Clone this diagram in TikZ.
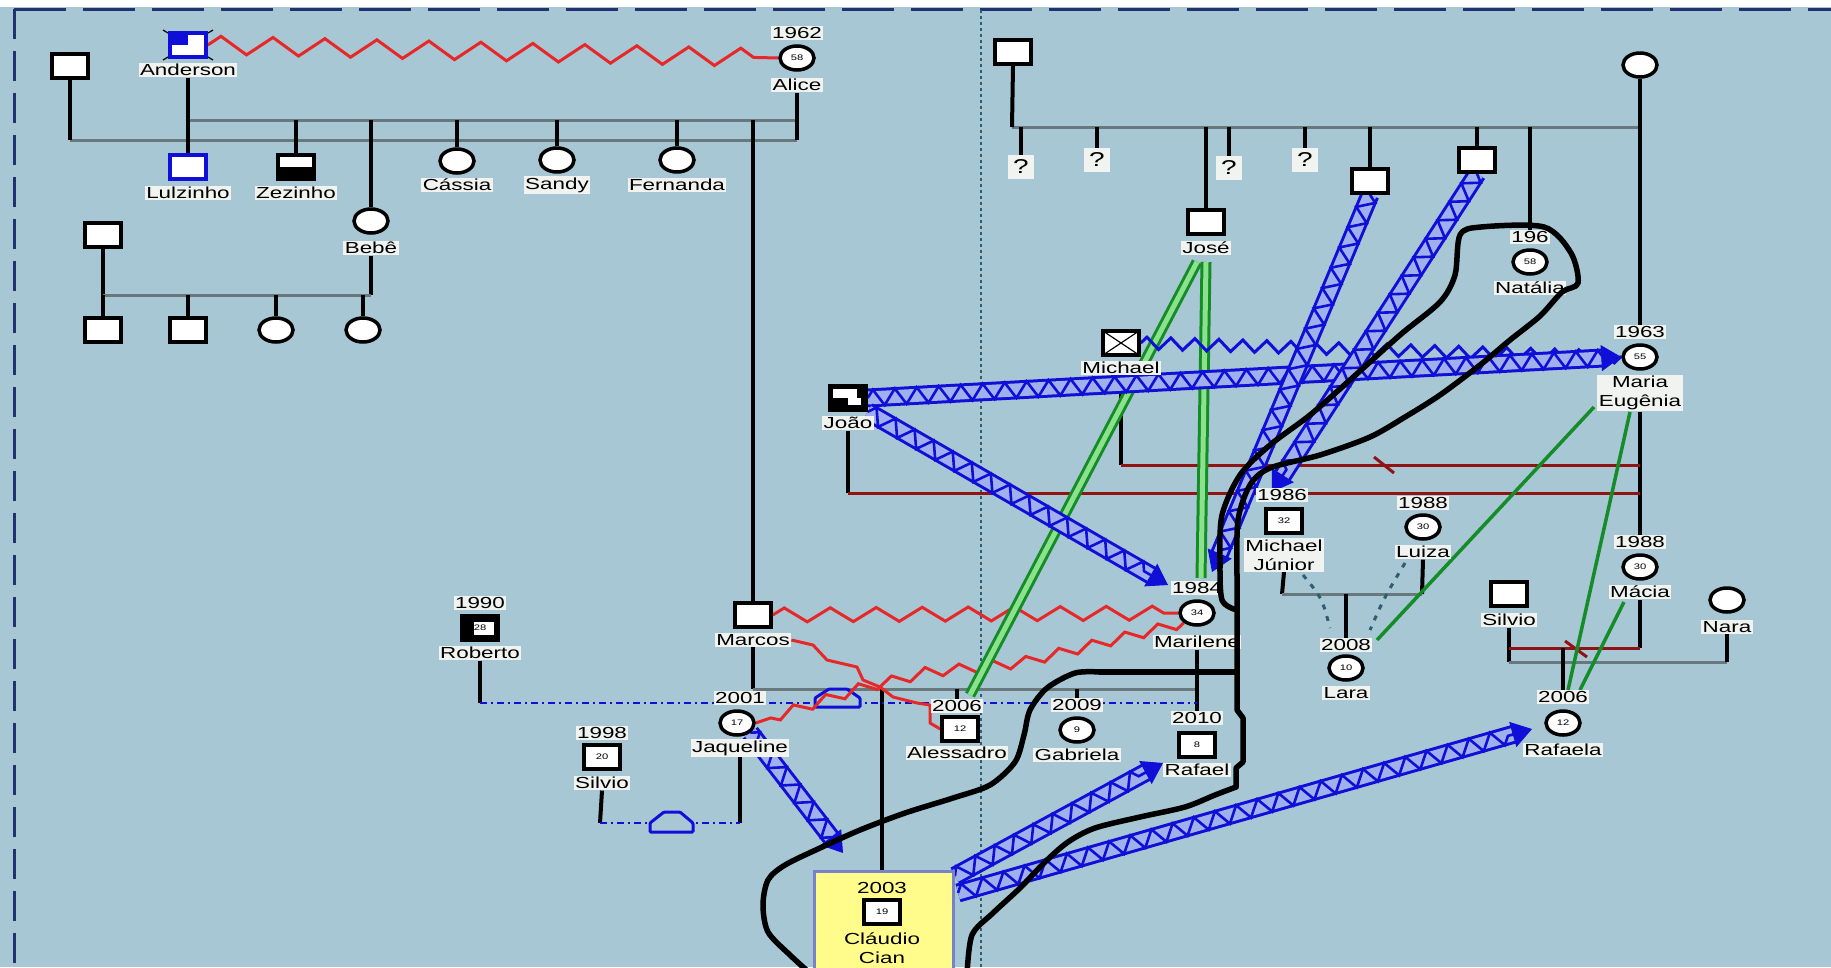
\documentclass[tikz,border=0pt]{standalone}
\usepackage{fontspec}
\setmainfont{Liberation Sans}
\newfontfamily\labfam[FakeStretch=1.4]{Liberation Sans}
\usetikzlibrary{shapes.geometric,decorations.pathmorphing,arrows.meta,calc}
\definecolor{bg}{RGB}{168,199,213}
\definecolor{labbg}{RGB}{240,243,240}
\definecolor{frame}{RGB}{35,50,110}
\definecolor{gline}{RGB}{105,120,125}
\definecolor{dred}{RGB}{145,20,20}
\definecolor{rline}{RGB}{230,40,40}
\definecolor{vblue}{RGB}{15,15,215}
\definecolor{bandfill}{RGB}{160,176,236}
\definecolor{gdark}{RGB}{20,140,40}
\definecolor{glight}{RGB}{140,225,140}
\definecolor{boxy}{RGB}{255,252,140}
\definecolor{boxb}{RGB}{120,130,200}
\definecolor{teald}{RGB}{45,95,115}
\newcommand\labf{\labfam\fontsize{16}{19}\selectfont}
\newcommand\agef{\labfam\fontsize{8}{9}\selectfont}
\newcommand\qmf{\labfam\fontsize{20}{20}\selectfont}
\pgfdeclarelayer{back}
\pgfdeclarelayer{lines}
\pgfdeclarelayer{top}
\pgfsetlayers{back,lines,main,top}
\tikzset{
 sq/.style={rectangle, draw=black, line width=3.5pt, fill=white, minimum width=36pt, minimum height=24pt, inner sep=0pt, font=\agef},
 ci/.style={ellipse, draw=black, line width=3.5pt, fill=white, minimum width=34pt, minimum height=24pt, inner sep=0pt, font=\agef},
 lab/.style={fill=labbg, inner sep=1.5pt, font=\labf, align=center},
 plain/.style={inner sep=1pt, font=\labf, align=center},
 qm/.style={fill=labbg, inner sep=0pt, minimum width=26pt, minimum height=24pt, font=\qmf},
 kin/.style={draw=black, line width=4pt},
 sib/.style={draw=gline, line width=3pt},
 marr/.style={draw=dred, line width=3pt},
 bandA/.style={draw=vblue, line width=3pt, double=bandfill, double distance=13pt},
 bandZ/.style={draw=vblue, line width=2.6pt, decorate, decoration={zigzag, amplitude=8pt, segment length=22pt}},
 btip/.style={draw=vblue, fill=vblue, line width=1pt, -{Triangle[length=20pt,width=26pt]}},
 close/.style={draw=gdark, line width=3pt, double=glight, double distance=5pt},
 gsingle/.style={draw=gdark, line width=3.5pt},
 dotblue/.style={draw=vblue, line width=2.5pt, dash pattern=on 7pt off 4pt on 2pt off 4pt},
 house/.style={draw=vblue, line width=3pt, rounded corners=1pt},
 outline/.style={draw=black, line width=5.5pt, line join=round, line cap=round},
 redz/.style={draw=rline, line width=3pt, decorate},
}
\newcommand\vband[2]{%
 \path[bandA] (#1) -- ($(#2)!17pt!(#1)$);
 \path[bandZ] (#1) -- ($(#2)!17pt!(#1)$);
 \draw[btip] ($(#2)!20pt!(#1)$) -- (#2);}
\begin{document}
\begin{tikzpicture}[x=1pt,y=-1pt]
\useasboundingbox (0,0) rectangle (1831,967);
\clip (0,0) rectangle (1831,967);
\begin{pgfonlayer}{back}
\fill[bg] (0,0) rectangle (1831,967);
\fill[white] (0,0) rectangle (1831,7);
\draw[frame, line width=3pt, dash pattern=on 52pt off 17pt] (14,9) -- (1831,9);
\draw[frame, line width=3pt, dash pattern=on 30pt off 12pt] (14,9) -- (14,967);
\draw[teald, line width=2.5pt, dash pattern=on 2.5pt off 3.5pt] (981,10) -- (981,967);
\end{pgfonlayer}

% ---------- top-left family ----------
\draw[black, line width=1.2pt] (163,30) -- (213,60) (213,30) -- (163,60);
\node[sq, draw=vblue, path picture={\fill[vblue] (path picture bounding box.north west) rectangle (path picture bounding box.center);}] (anderson) at (188,45) {};
\node[lab] (andersonL) at (188,70) {Anderson};
\node[sq] (p1) at (70,66) {};
\node[ci] (alice) at (797,58) {58};
\node[lab] (aliceY) at (797,33) {1962};
\node[lab] (aliceL) at (797,85) {Alice};
\node[sq, draw=vblue] (lulz) at (188,167) {};
\node[lab] (lulzL) at (188,193) {Lulzinho};
\node[sq, path picture={\fill[black] (path picture bounding box.west) rectangle (path picture bounding box.south east);}] (zez) at (296,167) {};
\node[lab] (zezL) at (296,193) {Zezinho};
\node[ci] (cassia) at (457,161) {};
\node[lab] (cassiaL) at (457,185) {Cássia};
\node[ci] (sandy) at (557,160) {};
\node[lab] (sandyL) at (557,185) {Sandy};
\node[ci] (fern) at (677,160) {};
\node[lab] (fernL) at (677,185) {Fernanda};
\node[ci] (bebe) at (371,221) {};
\node[lab] (bebeL) at (371,248) {Bebê};
\node[sq] (p2) at (103,235) {};
\node[sq] (c1) at (103,330) {};
\node[sq] (c2) at (188,330) {};
\node[ci] (c3) at (276,330) {};
\node[ci] (c4) at (363,330) {};
\node[sq] (marcos) at (753,615) {};
\node[lab] (marcosL) at (753,640) {Marcos};

\coordinate (u1) at (188,120); \coordinate (u2) at (797,120);
\coordinate (l1) at (70,140);  \coordinate (l2) at (797,140);
\coordinate (bb) at (371,295); \coordinate (pb) at (103,295);
\begin{pgfonlayer}{lines}
\draw[sib] (l1) -- (l2);
\draw[sib] (u1) -- (u2);
\draw[kin] (p1.south) -- (l1);
\draw[kin] (aliceL.south) -- (l2);
\draw[kin] (andersonL.south) -- (lulz.north);
\draw[kin] (zez.north) -- (zez.north |- u1);
\draw[kin] (bebe.north) -- (bebe.north |- u1);
\draw[kin] (cassia.north) -- (cassia.north |- u1);
\draw[kin] (sandy.north) -- (sandy.north |- u1);
\draw[kin] (fern.north) -- (fern.north |- u1);
\draw[kin] (marcos.north) -- (marcos.north |- u1);
\draw[kin] (bebeL.south) -- (bb);
\draw[kin] (p2.south) -- (pb);
\draw[sib] (pb) -- (bb);
\draw[kin] (c2.north) -- (c2.north |- pb);
\draw[kin] (c3.north) -- (c3.north |- pb);
\draw[kin] (c4.north) -- (c4.north |- pb);
\draw[kin] (c1.north) -- (pb);
\draw[redz, decoration={zigzag, amplitude=9pt, segment length=52pt}] (anderson.east) -- (alice.west);
\end{pgfonlayer}

% ---------- top-right family ----------
\node[sq] (p3) at (1013,52) {};
\node[ci] (p4) at (1640,65) {};
\node[qm] (q1) at (1021,167) {?};
\node[qm] (q2) at (1097,160) {?};
\node[qm] (q3) at (1229,168) {?};
\node[qm] (q4) at (1305,160) {?};
\node[sq] (jose) at (1206,222) {};
\node[lab] (joseL) at (1206,248) {José};
\node[sq] (s6) at (1370,181) {};
\node[sq] (s7) at (1477,160) {};
\node[lab] (natY) at (1530,237) {196};
\node[ci] (nat) at (1530,262) {58};
\node[lab] (natL) at (1530,288) {Natália};
\node[lab] (mariaY) at (1640,332) {1963};
\node[ci] (maria) at (1640,357) {55};
\node[lab] (mariaL) at (1640,393) {Maria\\Eugênia};
\node[sq, path picture={\draw[black, line width=1.2pt] (path picture bounding box.north west) -- (path picture bounding box.south east) (path picture bounding box.north east) -- (path picture bounding box.south west);}] (michael) at (1121,343) {};
\node[lab] (michaelL) at (1121,368) {Michael};
\node[sq, path picture={\fill[black] (path picture bounding box.north west) rectangle (path picture bounding box.south east);
 \fill[white] ($(path picture bounding box.north west)+(3,3)$) rectangle ($(path picture bounding box.north west)+(27,12)$);
 \fill[white] ($(path picture bounding box.north west)+(18,12)$) rectangle ($(path picture bounding box.north west)+(31,19)$);}] (joao) at (848,398) {};
\node[lab] (joaoL) at (848,423) {João};
\node[lab] (maciaY) at (1640,542) {1988};
\node[ci] (macia) at (1640,567) {30};
\node[lab] (maciaL) at (1640,592) {Mácia};
\node[sq] (silvio2) at (1509,594) {};
\node[lab] (silvio2L) at (1509,620) {Silvio};
\node[ci] (nara) at (1727,600) {};
\node[lab] (naraL) at (1727,627) {Nara};
\node[lab] (rafaelaY) at (1563,697) {2006};
\node[ci] (rafaela) at (1563,723) {12};
\node[lab] (rafaelaL) at (1563,750) {Rafaela};
\node[lab] (mjrY) at (1282,495) {1986};
\node[sq] (mjr) at (1284,521) {32};
\node[lab] (mjrL) at (1284,555) {Michael\\Júnior};
\node[lab] (luizaY) at (1423,503) {1988};
\node[ci] (luiza) at (1423,527) {30};
\node[lab] (luizaL) at (1423,552) {Luiza};
\node[lab] (laraY) at (1346,645) {2008};
\node[ci] (lara) at (1346,668) {10};
\node[lab] (laraL) at (1346,693) {Lara};

\coordinate (r1) at (1012,127); \coordinate (r2) at (1640,127);
\coordinate (mi) at (1121,465); \coordinate (me1) at (1640,465);
\coordinate (jo) at (848,493); \coordinate (me2) at (1640,493);
\coordinate (sv) at (1509,648); \coordinate (mc) at (1640,648);
\coordinate (sg) at (1509,662); \coordinate (ng) at (1727,662);
\coordinate (mj) at (1282,594); \coordinate (lz) at (1422,594);
\begin{pgfonlayer}{lines}
\draw[sib] (r1) -- (r2);
\draw[kin] (p3.south) -- (r1);
\draw[kin] (p4.south) -- (mariaY.north);
\draw[kin] (q1.north) -- (q1.north |- r1);
\draw[kin] (q2.north) -- (q2.north |- r1);
\draw[kin] (q3.north) -- (q3.north |- r1);
\draw[kin] (q4.north) -- (q4.north |- r1);
\draw[kin] (jose.north) -- (jose.north |- r1);
\draw[kin] (s6.north) -- (s6.north |- r1);
\draw[kin] (s7.north) -- (s7.north |- r1);
\draw[kin] (natY.north) -- (natY.north |- r1);
\draw[kin] (mariaL.south) -- (maciaY.north);
\draw[kin] (maciaL.south) -- (mc);
\draw[kin] (michaelL.south) -- (mi);
\draw[marr] (mi) -- (me1);
\draw[kin] (joaoL.south) -- (jo);
\draw[marr] (jo) -- (me2);
\draw[dred, line width=3pt] (1374,457) -- (1394,473);
\draw[kin] (silvio2L.south) -- (sg);
\draw[marr] (sv) -- (mc);
\draw[dred, line width=3pt] (1565,641) -- (1587,657);
\draw[sib] (sg) -- (ng);
\draw[kin] (naraL.south) -- (ng);
\draw[kin] (rafaelaY.north) -- (rafaelaY.north |- sv);
\draw[kin] (mjrL.south) -- (mj);
\draw[kin] (luizaL.south) -- (lz);
\draw[sib] (mj) -- (lz);
\draw[kin] (laraY.north) -- (laraY.north |- mj);
\draw[teald, line width=3pt, dash pattern=on 5pt off 7pt] (1303,575) .. controls (1322,598) .. (1330,628);
\draw[teald, line width=3pt, dash pattern=on 5pt off 7pt] (1405,563) .. controls (1384,598) .. (1370,630);
\end{pgfonlayer}

% ---------- lower-middle family ----------
\node[lab] (marY) at (1197,588) {1984};
\node[ci] (marilene) at (1197,613) {34};
\node[lab] (marileneL) at (1197,642) {Marilene};
\node[lab] (rafaelY) at (1197,718) {2010};
\node[sq] (rafael) at (1197,745) {8};
\node[lab] (rafaelL) at (1197,770) {Rafael};
\node[lab] (jaqY) at (740,698) {2001};
\node[ci] (jaq) at (737,723) {17};
\node[lab] (jaqL) at (740,748) {Jaqueline};
\node[lab] (aleY) at (957,706) {2006};
\node[sq] (ale) at (960,729) {12};
\node[lab] (aleL) at (957,753) {Alessadro};
\node[lab] (gabY) at (1077,705) {2009};
\node[ci] (gab) at (1077,730) {9};
\node[lab] (gabL) at (1077,755) {Gabriela};
\node[lab] (robY) at (480,603) {1990};
\node[sq, path picture={\fill[black] (path picture bounding box.north west) rectangle (path picture bounding box.south east);
 \fill[white] ($(path picture bounding box.north west)+(12,6)$) rectangle ($(path picture bounding box.north west)+(32,19)$);}] (rob) at (480,628) {28};
\node[lab] (robL) at (480,653) {Roberto};
\node[lab] (silY) at (602,733) {1998};
\node[sq] (sil) at (602,757) {20};
\node[lab] (silL) at (602,783) {Silvio};
\node[draw=boxb, line width=2.5pt, fill=boxy, minimum width=139pt, minimum height=110pt, anchor=north west, inner sep=0pt] (box) at (813,870) {};
\node[plain] (claY) at (882,888) {2003};
\node[sq] (cla) at (882,912) {19};
\node[plain] (claL) at (882,948) {Cláudio\\Cian};

\coordinate (cm) at (753,689); \coordinate (cr) at (1197,689);
\coordinate (rb) at (480,703); \coordinate (rbe) at (1197,703);
\coordinate (sl) at (600,823); \coordinate (jl) at (740,823);
\begin{pgfonlayer}{lines}
\draw[kin] (marcosL.south) -- (cm);
\draw[sib] (cm) -- (cr);
\draw[kin] (marileneL.south) -- (rafaelY.north);
\draw[kin] (cla.north |- cm) -- (box.north -| cla.north);
\draw[kin] (aleY.north) -- (aleY.north |- cm);
\draw[kin] (gabY.north) -- (gabY.north |- cm);
\draw[kin] (robL.south) -- (rb);
\draw[dotblue] (rb) -- (rbe);
\draw[house, fill=bg] (815,707) -- (815,698) -- (829,689) -- (847,689) -- (860,698) -- (860,707) -- cycle;
\draw[kin] (silL.south) -- (sl);
\draw[kin] (jaqL.south) -- (jl);
\draw[dotblue] (sl) -- (jl);
\draw[house, fill=bg] (650,832) -- (650,823) -- (664,812) -- (680,812) -- (693,823) -- (693,832) -- cycle;
% red conflict lines
\draw[redz, decoration={zigzag, amplitude=7pt, segment length=46pt}] (marcos.east) -- (marilene.west);
\draw[redz, decoration={zigzag, amplitude=5pt, segment length=34pt}] (marilene.south west) -- (1020,663) -- (930,672) -- (862,688) -- (800,708) -- (jaq.east);
\draw[rline, line width=3pt, line join=round] (marcosL.east) -- (813,645) -- (827,660) -- (857,667) -- (863,680) -- (880,687) -- (893,697) -- (917,703) -- (930,705) -- (930,723) -- (ale.west);
% green close lines
\coordinate (jg1) at (1197,262); \coordinate (jg2) at (1206,262);
\coordinate (ag) at (970,695); \coordinate (mg) at (1201,578);
\draw[close] (jg1) -- (ag);
\draw[close] (jg2) -- (mg);
\coordinate (meg1) at (1594,407); \coordinate (meg2) at (1630,412);
\coordinate (lg) at (1377,640); \coordinate (rg1) at (1568,690); \coordinate (rg2) at (1580,690);
\coordinate (mcg) at (1624,602);
\draw[gsingle] (meg1) -- (lg);
\draw[gsingle] (meg2) -- (rg1);
\draw[gsingle] (mcg) -- (rg2);
% blue hostile zigzag
\draw[vblue, line width=3pt, decorate, decoration={zigzag, amplitude=6pt, segment length=24pt}] (michael.east) -- (maria.west);
% violent bands
\coordinate (b2e) at (1168,585);
\coordinate (b3e) at (1212,572);
\coordinate (b4e) at (1272,492);
\coordinate (b5s) at (955,876); \coordinate (b5e) at (1163,763);
\coordinate (b6s) at (958,893); \coordinate (b6e) at (1532,729);
\coordinate (b7e) at (843,853);
\vband{joao.east}{maria.west}
\vband{joao.south east}{b2e}
\vband{s6.south}{b3e}
\vband{s7.south}{b4e}
\vband{b5s}{b5e}
\vband{b6s}{b6e}
\vband{jaq.south east}{b7e}
\end{pgfonlayer}

% ---------- household outline ----------
\begin{pgfonlayer}{top}
\draw[outline] plot[smooth, tension=0.5] coordinates {(812,975) (790,955) (768,932) (763,905) (768,880) (785,865) (820,848) (860,830) (905,813) (953,798) (990,785) (1015,762) (1024,735) (1030,710) (1047,688) (1075,673) (1100,672)};
\draw[outline] (1100,672) -- (1237,672);
\draw[outline] (1237,575) -- (1237,710) -- (1243,718) -- (1243,762) -- (1236,768) -- (1236,787);
\draw[outline] plot[smooth, tension=0.5] coordinates {(1236,787) (1215,795) (1185,807) (1140,817) (1095,828) (1068,842) (1045,862) (1020,888) (993,913) (972,935) (967,975)};
\draw[outline] plot[smooth, tension=0.5] coordinates {(1237,610) (1222,600) (1220,560) (1222,515) (1240,475) (1270,445) (1310,415) (1350,380) (1400,335) (1440,302) (1455,275) (1460,235) (1481,227) (1544,227) (1571,253) (1578,283) (1562,292) (1540,316) (1510,340) (1480,365) (1440,395) (1405,417) (1370,437) (1320,455) (1270,468) (1250,485) (1238,520) (1237,575)};
\end{pgfonlayer}
\end{tikzpicture}
\end{document}
